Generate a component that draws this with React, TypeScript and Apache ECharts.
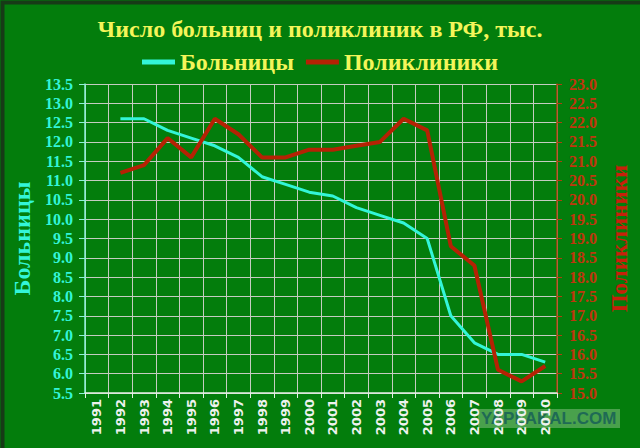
import React, { useEffect, useRef } from 'react';
import * as echarts from 'echarts';

const years = [
  '1991', '1992', '1993', '1994', '1995', '1996', '1997', '1998', '1999', '2000',
  '2001', '2002', '2003', '2004', '2005', '2006', '2007', '2008', '2009', '2010'
];

// тыс., 1991 нет данных
const hospitals = [
  null, 12.6, 12.6, 12.3, 12.1, 11.9, 11.6, 11.1, 10.9, 10.7,
  10.6, 10.3, 10.1, 9.9, 9.5, 7.5, 6.8, 6.5, 6.5, 6.3
];

const clinics = [
  null, 20.7, 20.9, 21.6, 21.1, 22.1, 21.7, 21.1, 21.1, 21.3,
  21.3, 21.4, 21.5, 22.1, 21.8, 18.8, 18.3, 15.6, 15.3, 15.7
];

const CYAN = '#33f5d8';
const RED = '#b52204';
const BG = '#037d0c';
const YELLOW = '#f4f55a';
const GRID = '#c4ccc0';
const SERIF = '"Liberation Serif", "DejaVu Serif", serif';

const App: React.FC = () => {
  const chartRef = useRef<HTMLDivElement>(null);

  useEffect(() => {
    if (!chartRef.current) return;
    const chart = echarts.init(chartRef.current, null, { renderer: 'svg' });

    const option: any = {
      animation: false,
      backgroundColor: BG,
      title: {
        text: 'Число больниц и поликлиник в РФ, тыс.',
        left: 'center',
        top: 12,
        textStyle: {
          color: YELLOW,
          fontFamily: SERIF,
          fontSize: 24,
          fontWeight: 'bold'
        }
      },
      legend: {
        top: 45,
        left: 'center',
        icon: 'rect',
        itemWidth: 33,
        itemHeight: 5,
        itemGap: 12,
        textStyle: {
          color: YELLOW,
          fontFamily: SERIF,
          fontSize: 24,
          fontWeight: 'bold'
        },
        data: ['Больницы', 'Поликлиники']
      },
      grid: {
        left: 85,
        right: 83,
        top: 84,
        bottom: 55
      },
      xAxis: {
        type: 'category',
        data: years,
        boundaryGap: true,
        axisLine: { lineStyle: { color: '#e6efe6', width: 1.5 } },
        axisTick: { show: true, length: 5, lineStyle: { color: '#e6efe6' } },
        axisLabel: {
          interval: 0,
          rotate: 90,
          color: '#eef2ee',
          fontFamily: '"DejaVu Sans", sans-serif',
          fontWeight: 'bold',
          fontSize: 13,
          margin: 6
        },
        splitLine: { show: true, lineStyle: { color: GRID, width: 1 } }
      },
      yAxis: [
        {
          type: 'value',
          min: 5.5,
          max: 13.5,
          interval: 0.5,
          position: 'left',
          name: 'Больницы',
          nameLocation: 'middle',
          nameRotate: 90,
          nameGap: 49,
          nameTextStyle: {
            color: CYAN,
            fontFamily: SERIF,
            fontSize: 24,
            fontWeight: 'bold'
          },
          axisLine: { show: true, lineStyle: { color: '#8ff0d8', width: 1.5 } },
          axisTick: { show: true, length: 6, lineStyle: { color: '#8ff0d8' } },
          axisLabel: {
            color: CYAN,
            fontFamily: SERIF,
            fontWeight: 'bold',
            fontSize: 16,
            margin: 12,
            formatter: (v: number) => v.toFixed(1)
          },
          splitLine: { show: true, lineStyle: { color: GRID, width: 1 } }
        },
        {
          type: 'value',
          min: 15,
          max: 23,
          interval: 0.5,
          position: 'right',
          name: 'Поликлиники',
          nameLocation: 'middle',
          nameRotate: 90,
          nameGap: 40,
          nameTextStyle: {
            color: '#c8200a',
            fontFamily: SERIF,
            fontSize: 23,
            fontWeight: 'bold'
          },
          axisLine: { show: true, lineStyle: { color: '#a8420e', width: 1.5 } },
          axisTick: { show: true, length: 5, lineStyle: { color: '#a8420e' } },
          axisLabel: {
            color: '#c0360e',
            fontFamily: SERIF,
            fontWeight: 'bold',
            fontSize: 16,
            margin: 12,
            formatter: (v: number) => v.toFixed(1)
          },
          splitLine: { show: false }
        }
      ],
      series: [
        {
          name: 'Больницы',
          type: 'line',
          yAxisIndex: 0,
          data: hospitals,
          symbol: 'none',
          lineStyle: { color: CYAN, width: 3 },
          itemStyle: { color: CYAN }
        },
        {
          name: 'Поликлиники',
          type: 'line',
          yAxisIndex: 1,
          data: clinics,
          symbol: 'none',
          lineStyle: { color: RED, width: 4 },
          itemStyle: { color: RED }
        }
      ],
      graphic: [
        {
          type: 'rect',
          left: 0,
          top: 0,
          shape: { width: 640, height: 448 },
          style: { fill: 'none', stroke: '#173a17', lineWidth: 4 },
          silent: true
        },
        {
          type: 'group',
          left: 478,
          top: 409,
          children: [
            {
              type: 'rect',
              shape: { x: 0, y: 0, width: 142, height: 19 },
              style: { fill: 'rgba(120,185,120,0.6)' }
            },
            {
              type: 'text',
              x: 3,
              y: 1,
              style: {
                text: 'YAPLAKAL.COM',
                fill: '#1f6a55',
                font: 'bold 17px "Liberation Sans", sans-serif'
              }
            }
          ]
        }
      ]
    };

    chart.setOption(option);
    return () => chart.dispose();
  }, []);

  return (
    <div style={{ position: 'absolute', left: 0, top: 0 }}>
      <div ref={chartRef} style={{ width: 640, height: 448 }} />
    </div>
  );
};

export default App;
